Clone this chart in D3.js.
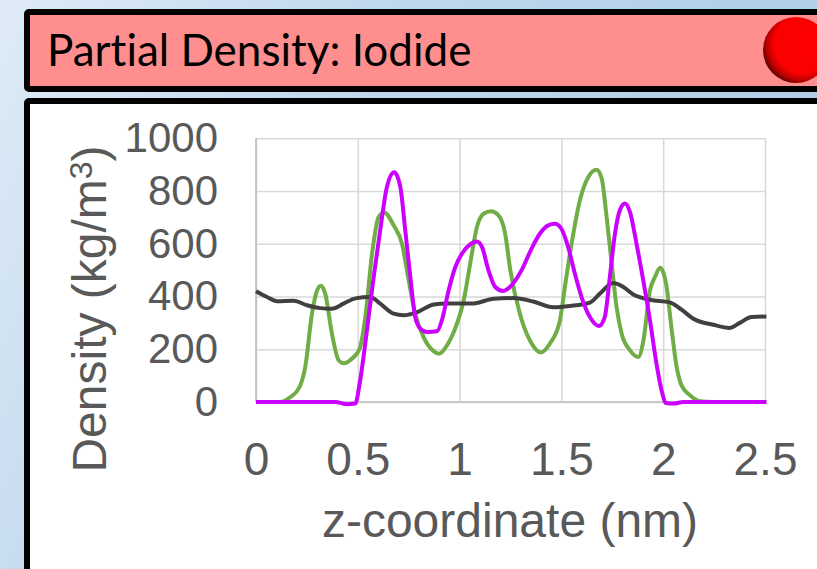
<!DOCTYPE html>
<html>
<head>
<meta charset="utf-8">
<script src="https://cdn.jsdelivr.net/npm/d3@7"></script>
<style>
  html, body { margin: 0; padding: 0; background: #fff; }
  svg { display: block; }
  .tick text { font-family: "Liberation Sans", Arial, sans-serif; fill: #595959; }
</style>
</head>
<body>
<svg id="chart" width="817" height="569"></svg>
<script>
var xTicks = [0, 0.5, 1, 1.5, 2, 2.5]
var yTicks = [0, 200, 400, 600, 800, 1000]

// black line: total density
var blackZ = [0, 0.054, 0.103, 0.185, 0.25, 0.316, 0.373, 0.43, 0.488, 0.561, 0.61, 0.676, 0.725, 0.79, 0.872, 0.938, 1.069, 1.167, 1.263, 1.362, 1.46, 1.542, 1.64, 1.689, 1.755, 1.804, 1.853, 1.935, 2.033, 2.09, 2.148, 2.246, 2.327, 2.376, 2.434, 2.507]
var blackD = [420, 398, 382, 384, 367, 356, 354, 373, 393, 398, 373, 335, 329, 340, 370, 374, 374, 392, 394, 381, 359, 364, 377, 411, 451, 436, 408, 388, 378, 350, 316, 293, 281, 300, 322, 324]

var greenZ = [0, 0.119, 0.169, 0.214, 0.242, 0.275, 0.3, 0.318, 0.34, 0.373, 0.406, 0.43, 0.471, 0.509, 0.537, 0.57, 0.602, 0.63, 0.676, 0.717, 0.75, 0.782, 0.823, 0.872, 0.9, 0.938, 0.987, 1.02, 1.052, 1.085, 1.118, 1.154, 1.191, 1.224, 1.249, 1.296, 1.345, 1.399, 1.443, 1.493, 1.517, 1.55, 1.591, 1.632, 1.673, 1.698, 1.722, 1.747, 1.771, 1.796, 1.837, 1.878, 1.903, 1.935, 1.96, 1.985, 2.014, 2.042, 2.066, 2.09, 2.133, 2.18, 2.246, 2.507]
var greenD = [0, 0, 19, 57, 133, 335, 423, 441, 411, 259, 158, 147, 164, 202, 322, 562, 701, 719, 670, 600, 461, 335, 246, 193, 183, 215, 297, 385, 525, 664, 714, 723, 708, 638, 500, 335, 234, 188, 221, 310, 436, 600, 765, 853, 881, 847, 702, 525, 360, 259, 196, 171, 234, 423, 475, 509, 449, 272, 133, 63, 25, 3, 0, 0]

var magentaZ = [0, 0.39, 0.447, 0.488, 0.509, 0.545, 0.578, 0.61, 0.643, 0.679, 0.709, 0.733, 0.758, 0.782, 0.807, 0.84, 0.889, 0.913, 0.946, 0.979, 1.011, 1.052, 1.085, 1.11, 1.142, 1.175, 1.214, 1.247, 1.304, 1.353, 1.394, 1.435, 1.468, 1.5, 1.533, 1.566, 1.599, 1.64, 1.684, 1.713, 1.738, 1.763, 1.787, 1.812, 1.837, 1.869, 1.902, 1.935, 1.967, 1.992, 2.014, 2.05, 2.1, 2.507]
var magentaD = [0, 0, -9, -6, 70, 272, 474, 651, 815, 871, 815, 651, 474, 322, 278, 265, 268, 310, 423, 512, 562, 598, 609, 588, 499, 436, 421, 436, 499, 581, 638, 670, 676, 657, 588, 487, 398, 322, 288, 322, 474, 638, 727, 753, 720, 600, 461, 310, 145, 44, -4, -6, 0, 0]

var titleText = 'Partial Density: Iodide'
var xLabel = 'z-coordinate (nm)'

var svg = d3.select('#chart')
var defs = svg.append('defs')

var bg = defs.append('linearGradient').attr('id', 'bg')
  .attr('x1', 0).attr('y1', 0).attr('x2', 1).attr('y2', 0.35)
bg.append('stop').attr('offset', '0%').attr('stop-color', '#dfebf7')
bg.append('stop').attr('offset', '45%').attr('stop-color', '#bed7ec')
bg.append('stop').attr('offset', '100%').attr('stop-color', '#aecde7')

var ball = defs.append('radialGradient').attr('id', 'ball')
  .attr('cx', 0.6).attr('cy', 0.42).attr('r', 0.62)
ball.append('stop').attr('offset', '0%').attr('stop-color', '#ff0000')
ball.append('stop').attr('offset', '70%').attr('stop-color', '#fb0000')
ball.append('stop').attr('offset', '88%').attr('stop-color', '#b80000')
ball.append('stop').attr('offset', '100%').attr('stop-color', '#600000')

svg.append('rect').attr('width', 817).attr('height', 569).attr('fill', 'url(#bg)')

// header strip and chart panel, both run off the right edge
svg.append('rect').attr('x', 27).attr('y', 12).attr('width', 820).attr('height', 77).attr('rx', 2)
  .attr('fill', '#ff8f8f').attr('stroke', '#000').attr('stroke-width', 6)
svg.append('rect').attr('x', 27).attr('y', 101).attr('width', 820).attr('height', 500).attr('rx', 2)
  .attr('fill', '#fff').attr('stroke', '#000').attr('stroke-width', 6)

svg.append('circle').attr('cx', 796).attr('cy', 50).attr('r', 33).attr('fill', 'url(#ball)')

svg.append('text').attr('x', 47).attr('y', 66)
  .attr('font-family', 'Lato, sans-serif').attr('font-size', 44).attr('fill', '#000')
  .style('font-variant-ligatures', 'none')
  .text(titleText)

var x = d3.scaleLinear().domain([0, 2.5]).range([256, 765])
var y = d3.scaleLinear().domain([0, 1000]).range([402, 138.3])

// gridlines come from the axes themselves
var xGrid = svg.append('g').attr('transform', 'translate(0,402)')
  .call(d3.axisBottom(x).tickValues(xTicks).tickSize(-263.7).tickFormat(''))
xGrid.select('.domain').remove()
xGrid.selectAll('line').attr('stroke', '#d9d9d9').attr('stroke-width', 1.6)

var yGrid = svg.append('g').attr('transform', 'translate(256,0)')
  .call(d3.axisLeft(y).tickValues(yTicks).tickSize(-509).tickFormat(''))
yGrid.select('.domain').remove()
yGrid.selectAll('line').attr('stroke', '#d9d9d9').attr('stroke-width', 1.6)

svg.append('line').attr('x1', 256).attr('x2', 256).attr('y1', 138).attr('y2', 402)
  .attr('stroke', '#bfbfbf').attr('stroke-width', 1.6)
svg.append('line').attr('x1', 256).attr('x2', 765).attr('y1', 402).attr('y2', 402)
  .attr('stroke', '#bfbfbf').attr('stroke-width', 1.6)

var xAxis = svg.append('g').attr('transform', 'translate(0,402)')
  .call(d3.axisBottom(x).tickValues(xTicks).tickSize(0).tickPadding(40).tickFormat(d3.format('~g')))
xAxis.select('.domain').remove()
xAxis.selectAll('text').attr('font-size', 46)

var yAxis = svg.append('g').attr('transform', 'translate(256,0)')
  .call(d3.axisLeft(y).tickValues(yTicks).tickSize(0).tickPadding(38).tickFormat(d3.format('d')))
yAxis.select('.domain').remove()
yAxis.selectAll('text').attr('font-size', 42)

svg.append('text').attr('x', 510).attr('y', 537).attr('text-anchor', 'middle')
  .attr('font-family', '"Liberation Sans", Arial, sans-serif').attr('font-size', 48).attr('fill', '#595959')
  .text(xLabel)

var yTitle = svg.append('text').attr('transform', 'translate(106,309) rotate(-90)').attr('text-anchor', 'middle')
  .attr('font-family', '"Liberation Sans", Arial, sans-serif').attr('font-size', 48).attr('fill', '#595959')
yTitle.append('tspan').text('Density (kg/m')
yTitle.append('tspan').attr('font-size', 32).attr('dy', -14).text('3')
yTitle.append('tspan').attr('dy', 14).text(')')

var line = d3.line()
  .x(function (d) { return x(d[0]) })
  .y(function (d) { return y(d[1]) })
  .curve(d3.curveMonotoneX)

function drawSeries (zs, ds, color) {
  svg.append('path').datum(d3.zip(zs, ds))
    .attr('d', line).attr('fill', 'none')
    .attr('stroke', color).attr('stroke-width', 4)
}

drawSeries(greenZ, greenD, '#70ad47')
drawSeries(blackZ, blackD, '#404040')
drawSeries(magentaZ, magentaD, '#cc00ff')
</script>
</body>
</html>
